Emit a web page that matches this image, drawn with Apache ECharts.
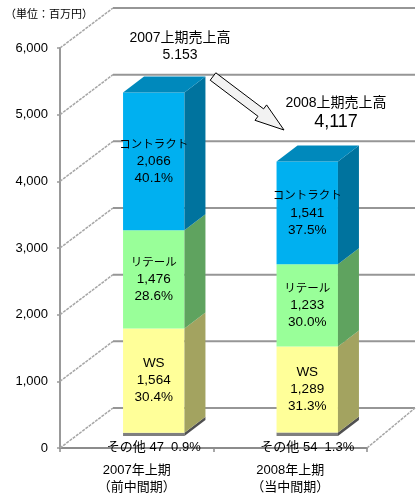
<!DOCTYPE html>
<html><head><meta charset="utf-8">
<script src="https://cdn.jsdelivr.net/npm/echarts@6/dist/echarts.min.js"></script>
<style>html,body{margin:0;padding:0;background:#fff}#c{width:418px;height:496px}</style>
</head><body><div id="c"></div>
<script>
// ---- data ----
const categories = ['2007年上期\n（前中間期）', '2008年上期\n（当中間期）'];
const segmentNames = ['その他', 'WS', 'リテール', 'コントラクト'];
const otherValues = [47, 54];
const wsValues = [1564, 1289];
const retailValues = [1476, 1233];
const contractValues = [2066, 1541];
const otherPct = ['0.9%', '1.3%'];
const wsPct = ['30.4%', '31.3%'];
const retailPct = ['28.6%', '30.0%'];
const contractPct = ['40.1%', '37.5%'];
const yTicks = [0, 1000, 2000, 3000, 4000, 5000, 6000];
const totalTitles = ['2007上期売上高', '2008上期売上高'];
const totalLabels = ['5.153', '4,117'];
const unitLabel = '（単位：百万円）';

// ---- styling ----
const FONT = "'Liberation Sans', 'Noto Sans CJK JP', sans-serif";
const WALL_D = [53, -40];      // depth of the chart box
const FLOOR_RD = [48, -40];    // right floor edge depth
const BAR_OFF = [17, -12];     // bar front offset from the front plane
const BAR_D = [21, -16];       // bar depth
const BAR_W = 0.40;

const segVals = [otherValues, wsValues, retailValues, contractValues];
const segPct = [otherPct, wsPct, retailPct, contractPct];
const segColors = [
  {front: '#7f7f7f', side: '#505050', top: '#6a6a6a'},
  {front: '#ffff99', side: '#a3a360', top: '#cccc7a'},
  {front: '#99ff99', side: '#5fa35f', top: '#7acc7a'},
  {front: '#00b0f0', side: '#00739e', top: '#0089bc'}
];
const fmt = v => v.toLocaleString('en-US');

function barSeries(k) {
  const data = segVals[k].map((v, i) => {
    let base = 0;
    for (let j = 0; j < k; j++) base += segVals[j][i];
    return [i, base, base + v, v];
  });
  const isTop = k === segVals.length - 1;
  const col = segColors[k];
  return {
    type: 'custom', name: segmentNames[k], data: data, z: 5,
    encode: {x: 0, y: [1, 2]},
    renderItem: function (params, api) {
      const i = api.value(0);
      const lo = api.coord([i, api.value(1)]);
      const hi = api.coord([i, api.value(2)]);
      const bw = api.size([1, 0])[0] * BAR_W;
      const x0 = lo[0] - bw / 2 + BAR_OFF[0], x1 = x0 + bw;
      const yb = lo[1] + BAR_OFF[1], yt = hi[1] + BAR_OFF[1];
      const dx = BAR_D[0], dy = BAR_D[1];
      const children = [
        {type: 'rect', shape: {x: x0, y: yt, width: bw, height: yb - yt}, style: {fill: col.front}},
        {type: 'polygon', shape: {points: [[x1, yb], [x1 + dx, yb + dy], [x1 + dx, yt + dy], [x1, yt]]}, style: {fill: col.side}}
      ];
      if (isTop) {
        children.push({type: 'polygon', shape: {points: [[x0, yt], [x0 + dx, yt + dy], [x1 + dx, yt + dy], [x1, yt]]}, style: {fill: col.top}});
      }
      const val = api.value(3);
      const pct = segPct[k][i];
      if (k === 0) {
        children.push({type: 'text', x: (x0 + x1) / 2, y: yb + 11, z2: 10,
          style: {text: segmentNames[k] + ' ' + fmt(val) + '  ' + pct, align: 'center', verticalAlign: 'middle',
            font: '13px ' + FONT, fill: '#000'}});
      } else {
        const isKana = segmentNames[k] !== 'WS';
        children.push({type: 'text', x: (x0 + x1) / 2, y: (yt + yb) / 2, z2: 10,
          style: {text: '{' + (isKana ? 'k' : 'n') + '|' + segmentNames[k] + '}\n{n|' + fmt(val) + '}\n{n|' + pct + '}',
            align: 'center', verticalAlign: 'middle', fill: '#000',
            rich: {
              k: {fontSize: 11.5, fontFamily: FONT, lineHeight: 17, fill: '#000', align: 'center'},
              n: {fontSize: 13.5, fontFamily: FONT, lineHeight: 17, fill: '#000', align: 'center'}
            }}});
      }
      return {type: 'group', children: children};
    }
  };
}

const wallSeries = {
  type: 'custom', z: 1, silent: true,
  data: yTicks.map(v => [0, v]),
  encode: {x: 0, y: 1},
  renderItem: function (params, api) {
    const cs = params.coordSys;
    const p = api.coord([0, api.value(1)]);
    const x0 = cs.x, y = p[1];
    const xr = cs.x + cs.width;
    const children = [
      {type: 'polyline', shape: {points: [[x0, y], [x0 + WALL_D[0], y + WALL_D[1]]]},
        style: {stroke: '#a6a6a6', lineWidth: 1.5, fill: null, lineDash: [3, 1]}},
      {type: 'polyline', shape: {points: [[x0 + WALL_D[0], y + WALL_D[1]], [xr + FLOOR_RD[0], y + WALL_D[1]]]},
        style: {stroke: '#969696', lineWidth: 2, fill: null}}
    ];
    if (api.value(1) === yTicks[0]) {
      children.push({type: 'polyline', shape: {points: [[xr, y], [xr + FLOOR_RD[0], y + FLOOR_RD[1]]]},
        style: {stroke: '#a6a6a6', lineWidth: 1.5, fill: null, lineDash: [3, 1]}});
    }
    return {type: 'group', children: children};
  }
};

const chart = echarts.init(document.getElementById('c'), null, {renderer: 'canvas'});
chart.setOption({
  animation: false,
  backgroundColor: '#fff',
  grid: {left: 60, right: 51, top: 48, bottom: 48},
  xAxis: {
    type: 'category', data: categories,
    axisLine: {lineStyle: {color: '#8c8c8c', width: 2}},
    axisTick: {show: true, length: 4, lineStyle: {color: '#8c8c8c', width: 1.5}},
    axisLabel: {color: '#000', fontSize: 13, fontFamily: FONT, lineHeight: 17, margin: 14}
  },
  yAxis: {
    type: 'value', min: 0, max: 6000, interval: 1000,
    axisLine: {show: true, lineStyle: {color: '#999', width: 2}},
    axisTick: {show: true, length: 3, lineStyle: {color: '#999', width: 1.5}},
    splitLine: {show: false},
    axisLabel: {color: '#000', fontSize: 13, fontFamily: FONT, margin: 12, formatter: v => fmt(v)}
  },
  series: [wallSeries, barSeries(0), barSeries(1), barSeries(2), barSeries(3)],
  graphic: [
    {type: 'text', left: 5, top: 9, style: {text: unitLabel, font: '11px ' + FONT, fill: '#000'}},
    {type: 'text', x: 180, y: 38, style: {text: totalTitles[0], font: '14px ' + FONT, fill: '#000', align: 'center', verticalAlign: 'middle'}},
    {type: 'text', x: 180, y: 55, style: {text: totalLabels[0], font: '14px ' + FONT, fill: '#000', align: 'center', verticalAlign: 'middle'}},
    {type: 'text', x: 336, y: 103, style: {text: totalTitles[1], font: '14px ' + FONT, fill: '#000', align: 'center', verticalAlign: 'middle'}},
    {type: 'text', x: 336, y: 122, style: {text: totalLabels[1], font: '18px ' + FONT, fill: '#000', align: 'center', verticalAlign: 'middle'}},
    {type: 'polygon', z: 20, shape: {points: [[215.8, 72.8], [263.6, 108.9], [266.6, 104.9], [284, 130], [255, 120.3], [258, 116.3], [210.2, 80.2]]},
      style: {fill: '#f2f2f2', stroke: '#000', lineWidth: 1}}
  ]
});
</script></body></html>
